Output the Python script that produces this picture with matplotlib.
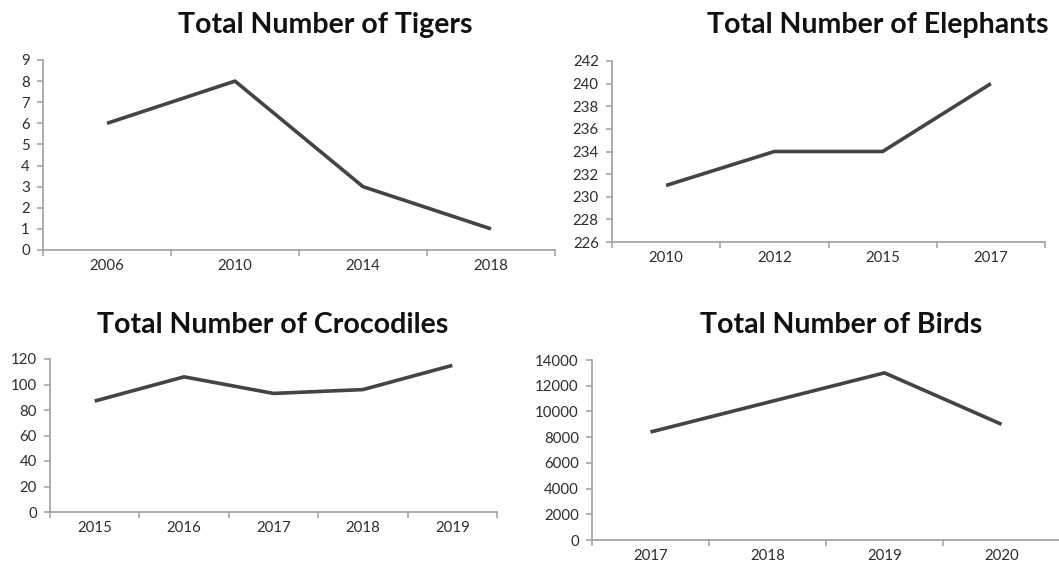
import matplotlib
matplotlib.use("Agg")
import matplotlib.pyplot as plt
import numpy as np

plt.rcParams['font.family'] = ['Lato', 'DejaVu Sans']

# Data
tiger_years = ["2006", "2010", "2014", "2018"]
tiger_counts = [6, 8, 3, 1]

elephant_years = ["2010", "2012", "2015", "2017"]
elephant_counts = [231, 234, 234, 240]

croc_years = ["2015", "2016", "2017", "2018", "2019"]
croc_counts = [87, 106, 93, 96, 115]

bird_years = ["2017", "2018", "2019", "2020"]
bird_counts = [8400, 10700, 13000, 9000]

W, H = 1059, 569
fig = plt.figure(figsize=(W / 100, H / 100), dpi=100)

LINE_COLOR = "#444444"
AXIS_COLOR = "#a6a6a6"
TEXT_COLOR = "#2e2e2e"


def px_axes(left, top, right, bottom):
    return fig.add_axes([left / W, 1 - bottom / H, (right - left) / W, (bottom - top) / H])


def panel(box, title, title_xy, cats, vals, ylim, ystep):
    ax = px_axes(*box)
    x = np.arange(len(cats))
    ax.plot(x, vals, color=LINE_COLOR, lw=2.6, solid_capstyle="butt", clip_on=False)
    ax.set_xlim(-0.5, len(cats) - 0.5)
    ax.set_ylim(*ylim)
    ax.set_yticks(np.arange(ylim[0], ylim[1] + ystep / 2, ystep))
    ax.set_xticks(x)
    ax.set_xticklabels(cats)
    ax.set_xticks(np.arange(-0.5, len(cats), 1.0), minor=True)
    for s in ["top", "right"]:
        ax.spines[s].set_visible(False)
    for s in ["left", "bottom"]:
        ax.spines[s].set_color(AXIS_COLOR)
        ax.spines[s].set_linewidth(1.3)
    ax.tick_params(axis="x", which="major", length=0, pad=6.5, labelsize=10.8, labelcolor=TEXT_COLOR)
    ax.tick_params(axis="x", which="minor", length=4.5, width=1.2, color=AXIS_COLOR, direction="out")
    ax.tick_params(axis="y", which="major", length=4.5, width=1.2, color=AXIS_COLOR,
                   pad=5, labelsize=10.8, labelcolor=TEXT_COLOR)
    ax.patch.set_alpha(0)
    fig.text(title_xy[0] / W, 1 - title_xy[1] / H, title, fontsize=20.5, fontweight="bold",
             color="#111111", ha="left", va="baseline")
    return ax


panel((43, 60, 555, 250), "Total Number of Tigers", (178, 33),
      tiger_years, tiger_counts, (0, 9), 1)
panel((612, 61, 1045, 242), "Total Number of Elephants", (707, 33),
      elephant_years, elephant_counts, (226, 242), 2)
panel((50, 359, 497, 512), "Total Number of Crocodiles", (97, 333),
      croc_years, croc_counts, (0, 120), 20)
panel((592, 360, 1060, 540), "Total Number of Birds", (700, 333),
      bird_years, bird_counts, (0, 14000), 2000)

fig.savefig("out.png", dpi=100)
